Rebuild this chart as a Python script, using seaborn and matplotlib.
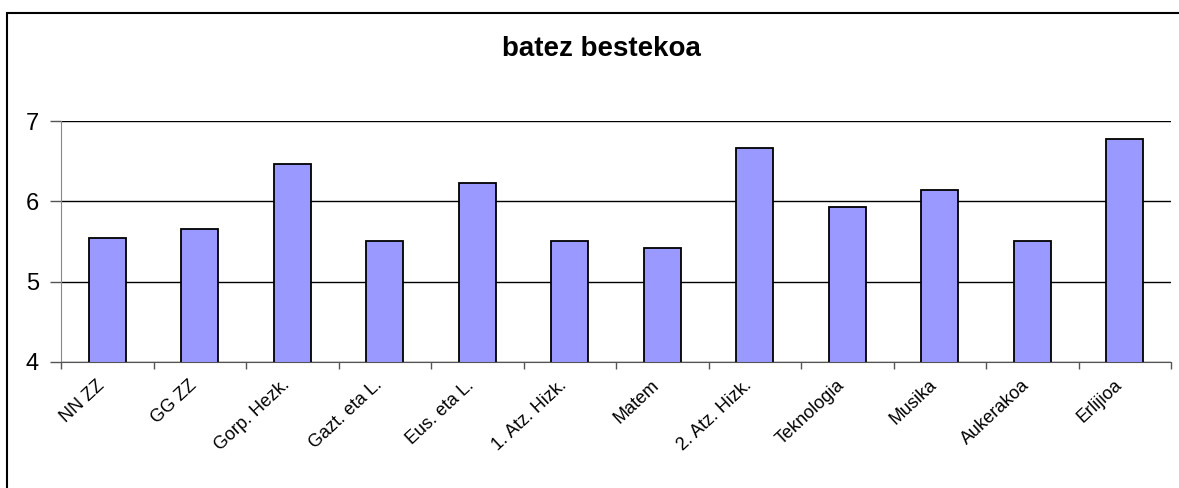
import numpy as np
import matplotlib
matplotlib.use("Agg")
import matplotlib.pyplot as plt
import matplotlib.transforms as mtrans
import seaborn as sb
from matplotlib.patches import Rectangle

subjects = ["NN ZZ", "GG ZZ", "Gorp. Hezk.", "Gazt. eta L.", "Eus. eta L.",
            "1. Atz. Hizk.", "Matem", "2. Atz. Hizk.", "Teknologia", "Musika",
            "Aukerakoa", "Erlijioa"]
averages = [5.54, 5.65, 6.47, 5.50, 6.23, 5.50, 5.42, 6.66, 5.93, 6.14, 5.50, 6.78]
y_ticks = [4, 5, 6, 7]

sb.set_style("white")
plt.rcParams['font.family'] = ['Liberation Sans', 'DejaVu Sans']
plt.rcParams['text.color'] = 'black'
plt.rcParams['xtick.color'] = 'black'
plt.rcParams['ytick.color'] = 'black'

W, H = 1179, 488
fig = plt.figure(figsize=(W / 100, H / 100), dpi=100)
ax = fig.add_axes([61 / W, 1 - 362 / H, (1171 - 61) / W, (362 - 121) / H])

sb.barplot(x=subjects, y=averages, ax=ax, color="#9999ff", width=0.4,
           edgecolor="black", linewidth=1.3, saturation=1)

ax.set_ylim(4, 7)
ax.set_xlim(-0.5, len(subjects) - 0.5)
ax.set_yticks(y_ticks)
ax.set_yticklabels([str(v) for v in y_ticks], fontsize=17)
ax.yaxis.grid(True, color="black", linewidth=1)
ax.set_axisbelow(True)

ax.set_xticks(range(len(subjects)))
ax.set_xticklabels(subjects, rotation=43, ha="right", rotation_mode="anchor", fontsize=13)
ax.set_xticks(np.arange(-0.5, len(subjects), 1), minor=True)
ax.tick_params(axis="x", which="major", length=0, pad=10.5)
ax.tick_params(axis="x", which="minor", length=5, width=1, color="#555555", direction="out", bottom=True)
ax.tick_params(axis="y", length=8, width=1, color="#555555", labelcolor="black",
               direction="out", left=True, pad=8)
shift = mtrans.ScaledTranslation(-0.11, 0, fig.dpi_scale_trans)
for lbl in ax.get_xticklabels():
    lbl.set_transform(lbl.get_transform() + shift)
ax.set_xlabel("")
ax.set_ylabel("")

for side in ["top", "right"]:
    ax.spines[side].set_visible(False)
ax.spines["left"].set_color("#888888")
ax.spines["bottom"].set_color("#555555")

fig.text(601 / W, 1 - 49 / H, "batez bestekoa", ha="center", va="center",
         fontsize=20, fontweight="bold", color="black")

fig.patches.append(Rectangle((7 / W, -0.1), 1.2, 1 - 13 / H + 0.1, transform=fig.transFigure,
                             fill=False, edgecolor="black", linewidth=1.5))

fig.savefig("out.png", dpi=100)
